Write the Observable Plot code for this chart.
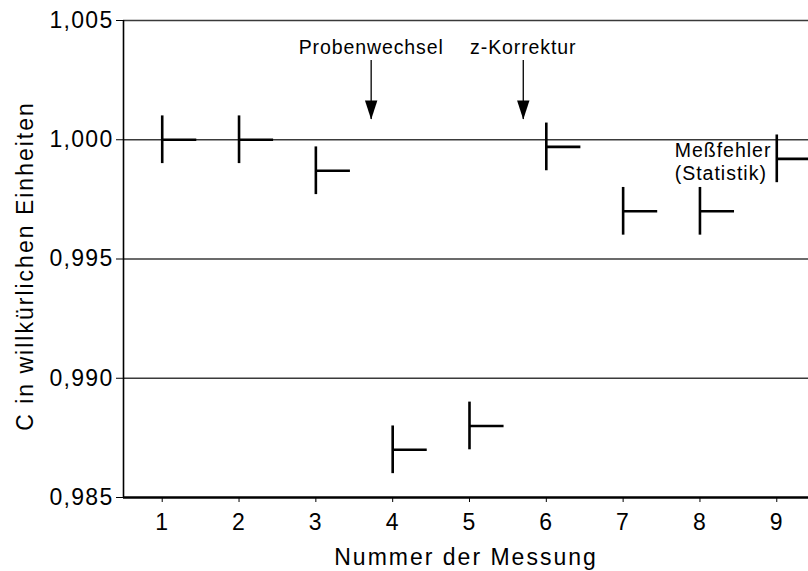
<!DOCTYPE html>
<html>
<head>
<meta charset="utf-8">
<script src="https://cdn.jsdelivr.net/npm/d3@7"></script>
<script src="https://cdn.jsdelivr.net/npm/@observablehq/plot@0.6"></script>
<style>
  html, body { margin: 0; padding: 0; background: #fff; }
  #chart svg { display: block; }
</style>
</head>
<body>
<div id="chart"></div>
<script>
// ---- data ----
const measurement = [1, 2, 3, 4, 5, 6, 7, 8, 9];
const value = [1.0000, 1.0000, 0.9987, 0.9870, 0.9880, 0.9997, 0.9970, 0.9970, 0.9992];
const error = [0.001, 0.001, 0.001, 0.001, 0.001, 0.001, 0.001, 0.001, 0.001];
const stepLength = 0.45;

const xTicks = [1, 2, 3, 4, 5, 6, 7, 8, 9];
const yTicks = [0.985, 0.990, 0.995, 1.000, 1.005];
const gridLines = [0.990, 0.995, 1.000, 1.005];
const xDomain = [0.496, 9.413];
const yDomain = [0.985, 1.005];

const eventLabels = ["Probenwechsel", "z-Korrektur"];
const eventX = [3.72, 5.70];
const eventLabelY = 1.00387;
const arrowTop = 1.00332;
const arrowTip = 1.00085;

const noteText = "Meßfehler\n(Statistik)";
const noteX = 7.671;
const noteY = 0.9991;

const xTitle = "Nummer der Messung";
const yTitle = "C in willkürlichen Einheiten";

// ---- tables ----
const rows = measurement.map((m, i) => ({m, v: value[i], e: error[i]}));
const events = eventLabels.map((t, i) => ({t, x: eventX[i]}));

const arrowHead = {
  draw(context) {
    context.moveTo(0, 0);
    context.lineTo(-6.2, -19);
    context.lineTo(6.2, -19);
    context.closePath();
  }
};

const fmt = d => d.toFixed(3).replace(".", ",");

const chart = Plot.plot({
  width: 808,
  height: 571,
  marginLeft: 123,
  marginRight: 0,
  marginTop: 20,
  marginBottom: 74,
  style: "font-family: 'Liberation Sans', Arial, sans-serif; font-size: 23px; letter-spacing: 1.3px; color: #000; background: #fff; overflow: visible;",
  x: {domain: xDomain, ticks: xTicks, tickSize: 5, tickPadding: 11, tickFormat: d => String(d), label: null},
  y: {domain: yDomain, ticks: yTicks, tickSize: 7, tickPadding: 3, tickFormat: fmt, label: null},
  marks: [
    Plot.ruleY(gridLines, {y: d => d, stroke: "#3a3a3a", strokeWidth: 1.3}),
    Plot.ruleX([xDomain[0]], {stroke: "#000", strokeWidth: 1.6}),
    Plot.ruleY([yDomain[0]], {stroke: "#000", strokeWidth: 2.6}),
    // error bars
    Plot.ruleX(rows, {x: "m", y1: d => d.v - d.e, y2: d => d.v + d.e, stroke: "#000", strokeWidth: 2.6}),
    Plot.ruleY(rows, {y: "v", x1: "m", x2: d => d.m + stepLength, stroke: "#000", strokeWidth: 2.6}),
    // event arrows
    Plot.ruleX(events, {x: "x", y1: arrowTop, y2: arrowTip, stroke: "#000", strokeWidth: 1.3}),
    Plot.dot(events, {x: "x", y: arrowTip, symbol: arrowHead, fill: "#000", stroke: "none", r: 5}),
    Plot.text(events, {x: "x", y: eventLabelY, text: "t", fontSize: 19.5, textAnchor: "middle", lineAnchor: "middle", fill: "#000"}),
    // note
    Plot.text([noteText], {x: noteX, y: noteY, text: d => d, fontSize: 19.5, textAnchor: "start", lineAnchor: "middle", lineHeight: 1.17, fill: "#000"}),
    // axis titles
    Plot.text([xTitle], {frameAnchor: "bottom", dy: 60, text: d => d, fontSize: 23, textAnchor: "middle", lineAnchor: "middle", fill: "#000"}),
    Plot.text([yTitle], {frameAnchor: "left", dx: -98, dy: 7, rotate: -90, text: d => d, fontSize: 23, textAnchor: "middle", lineAnchor: "middle", fill: "#000"})
  ]
});

// letter spacing for text groups
chart.querySelectorAll("text").forEach(t => {
  const txt = t.textContent;
  if (txt === xTitle || txt === yTitle) t.style.letterSpacing = "2px";
  if (eventLabels.includes(txt)) t.style.letterSpacing = "0.9px";
  if (txt.includes("Meßfehler") || txt.includes("Statistik")) t.style.letterSpacing = "1px";
});

document.getElementById("chart").appendChild(chart);
</script>
</body>
</html>
